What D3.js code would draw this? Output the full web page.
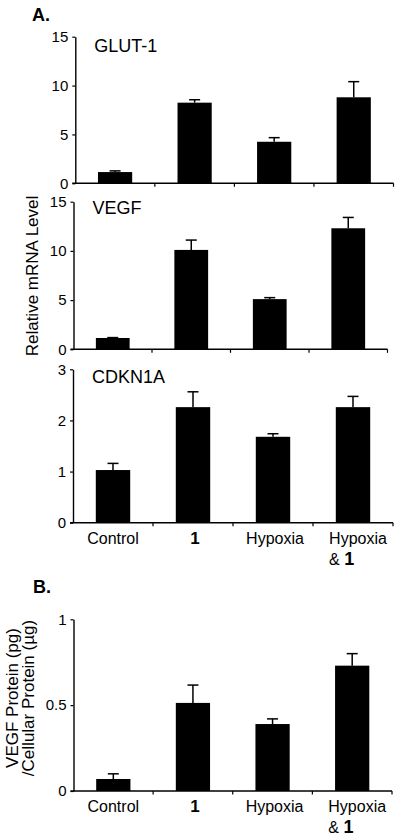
<!DOCTYPE html>
<html><head><meta charset="utf-8">
<script src="https://cdn.jsdelivr.net/npm/d3@7"></script>
<style>
html,body{margin:0;padding:0;background:#fff;}
svg text{font-family:"Liberation Sans",Arial,sans-serif;fill:#000;}
</style></head>
<body><svg id="c" width="400" height="840"></svg>
<script>
// ---- data ----
const categories = ["Control", "1", "Hypoxia", "Hypoxia & 1"];
const glut1 = [1.15, 8.25, 4.25, 8.8];
const glut1Err = [0.12, 0.3, 0.42, 1.6];
const vegfMrna = [1.15, 10.1, 5.1, 12.3];
const vegfMrnaErr = [0.04, 1.0, 0.15, 1.1];
const cdkn1a = [1.03, 2.26, 1.68, 2.26];
const cdkn1aErr = [0.13, 0.3, 0.06, 0.21];
const vegfProtein = [0.07, 0.513, 0.39, 0.73];
const vegfProteinErr = [0.03, 0.104, 0.03, 0.07];
const ticksGlut = [0, 5, 10, 15];
const ticksVegf = [0, 5, 10, 15];
const ticksCdkn = [0, 1, 2, 3];
const ticksProtein = [0, 0.5, 1];

const svg = d3.select("#c");

function panel(o) {
  const x = d3.scaleBand().domain(categories).range([o.x0, o.x1])
    .paddingInner(0.57).paddingOuter(0.285);
  const y = d3.scaleLinear().domain([0, o.max]).range([o.yb, o.yt]);
  const g = svg.append("g");
  // bars
  g.selectAll("rect.bar").data(categories).join("rect")
    .attr("x", d => x(d)).attr("width", x.bandwidth())
    .attr("y", (d, i) => y(o.values[i]))
    .attr("height", (d, i) => y(0) - y(o.values[i]))
    .attr("fill", "#000");
  // error bars
  const eb = g.selectAll("g.err").data(categories).join("g");
  eb.append("line")
    .attr("x1", d => x(d) + x.bandwidth() / 2).attr("x2", d => x(d) + x.bandwidth() / 2)
    .attr("y1", (d, i) => y(o.values[i])).attr("y2", (d, i) => y(o.values[i] + o.err[i]))
    .attr("stroke", "#000").attr("stroke-width", 1.5);
  eb.append("line")
    .attr("x1", d => x(d) + x.bandwidth() / 2 - 5.5).attr("x2", d => x(d) + x.bandwidth() / 2 + 5.5)
    .attr("y1", (d, i) => y(o.values[i] + o.err[i])).attr("y2", (d, i) => y(o.values[i] + o.err[i]))
    .attr("stroke", "#000").attr("stroke-width", 1.5);
  // y axis
  const ya = g.append("g").attr("transform", `translate(${o.x0},0)`)
    .call(d3.axisLeft(y).tickValues(o.ticks).tickSize(3).tickPadding(4).tickSizeOuter(0)
      .tickFormat(d3.format("~g")));
  ya.select(".domain").attr("stroke-width", 1.4);
  ya.selectAll(".tick line").attr("stroke-width", 1.2);
  ya.selectAll("text").style("font-size", "15px").attr("font-family", null);
  // x axis line
  g.append("line").attr("x1", o.x0 - 3).attr("x2", o.x1).attr("y1", y(0)).attr("y2", y(0))
    .attr("stroke", "#000").attr("stroke-width", 1.4);
  // x boundary ticks
  const step = x.step();
  g.selectAll("line.bt").data(categories).join("line")
    .attr("x1", d => x(d) - x.paddingOuter() * step + step)
    .attr("x2", d => x(d) - x.paddingOuter() * step + step)
    .attr("y1", y(0)).attr("y2", y(0) + 3.5)
    .attr("stroke", "#000").attr("stroke-width", 1.2);
  // title
  g.append("text").attr("x", o.x0 + 19).attr("y", o.titleY)
    .style("font-size", "18px").text(o.title);
  // category labels
  if (o.labels) {
    const by = y(0) + 21;
    categories.forEach((c, i) => {
      const cx = x(c) + x.bandwidth() / 2;
      if (c === "1") {
        g.append("text").attr("x", cx + 2).attr("y", by).attr("text-anchor", "middle")
          .style("font-size", "17px").style("font-weight", "bold").text("1");
      } else if (c === "Hypoxia & 1") {
        const t = g.append("text").attr("x", cx + 5).attr("y", by).attr("text-anchor", "middle")
          .style("font-size", "16px").text("Hypoxia");
        const w = t.node().getComputedTextLength();
        const t2 = g.append("text").attr("x", cx + 5 - w / 2).attr("y", by + 21)
          .style("font-size", "16px");
        t2.append("tspan").text("& ");
        t2.append("tspan").style("font-weight", "bold").style("font-size", "18px").text("1");
      } else {
        g.append("text").attr("x", cx + (i === 2 ? 2 : 0)).attr("y", by).attr("text-anchor", "middle")
          .style("font-size", "16px").text(c);
      }
    });
  }
}

panel({ x0: 75.3, x1: 393.5, yt: 36.7, yb: 183.3, max: 15, values: glut1, err: glut1Err,
  ticks: ticksGlut, title: "GLUT-1", titleY: 51.5 });
panel({ x0: 73.5, x1: 387.5, yt: 201.7, yb: 349.3, max: 15, values: vegfMrna, err: vegfMrnaErr,
  ticks: ticksVegf, title: "VEGF", titleY: 214 });
panel({ x0: 73, x1: 393, yt: 369.3, yb: 522.7, max: 3, values: cdkn1a, err: cdkn1aErr,
  ticks: ticksCdkn, title: "CDKN1A", titleY: 383.3, labels: true });
panel({ x0: 73.5, x1: 392, yt: 619.3, yb: 791, max: 1, values: vegfProtein, err: vegfProteinErr,
  ticks: ticksProtein, title: "", titleY: 0, labels: true });

// panel letters
svg.append("text").attr("x", 32).attr("y", 20.7).style("font-size", "18px")
  .style("font-weight", "bold").text("A.");
svg.append("text").attr("x", 33).attr("y", 593).style("font-size", "18px")
  .style("font-weight", "bold").text("B.");

// y axis titles
svg.append("text").attr("transform", "translate(37.5,276) rotate(-90)")
  .attr("text-anchor", "middle").style("font-size", "17px").text("Relative mRNA Level");
svg.append("text").attr("transform", "translate(17.5,698) rotate(-90)")
  .attr("text-anchor", "middle").style("font-size", "17px").text("VEGF Protein (pg)");
svg.append("text").attr("transform", "translate(33.5,698) rotate(-90)")
  .attr("text-anchor", "middle").style("font-size", "17px").text("/Cellular Protein (\u00b5g)");
</script></body></html>
